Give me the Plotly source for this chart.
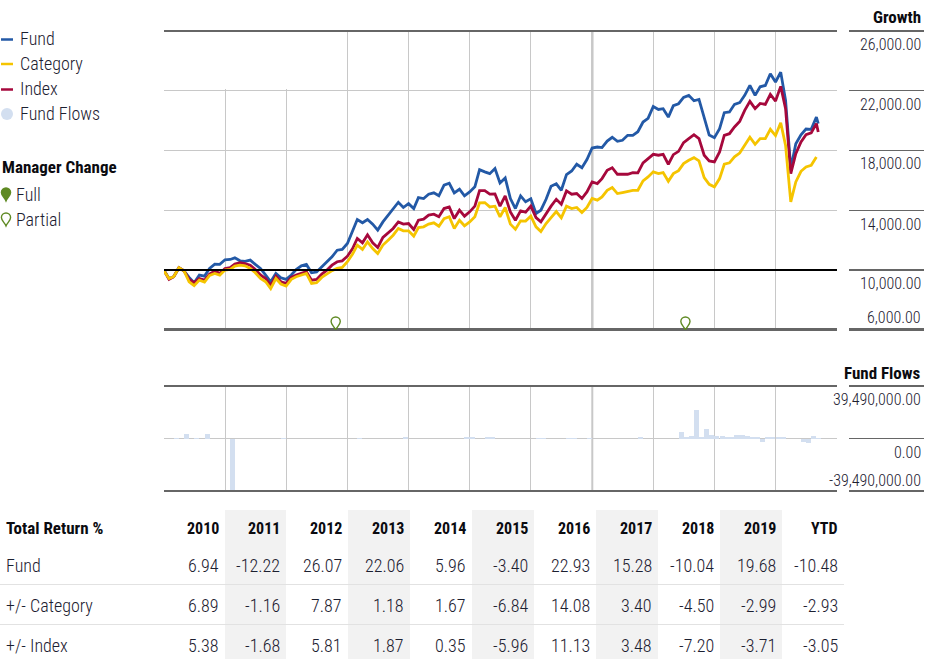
import pandas as pd
import plotly.graph_objects as go

W, H = 930, 659
FONT = "Roboto Condensed, Archivo Narrow, DejaVu Sans Condensed, sans-serif"
TXT = "#1c2030"
DARK = "#666666"
GRID = "#c8c8c8"

fund = [10000,9440,9560,10160,9960,9510,9160,9670,9600,10110,10400,10380,10690,10710,10820,10620,10580,10670,10380,10110,
        9670,9220,9780,9490,9380,9670,10040,10290,10380,9820,9870,10220,10560,10890,11330,11380,11780,12560,13380,13160,
        13380,13070,12670,13220,13670,14110,14530,14180,14440,14110,14840,14780,15070,15160,14960,15670,15800,15160,15400,14960,
        15220,15560,16710,16560,16440,16780,15820,16150,14780,14110,14960,14560,14760,13780,14000,14730,15600,15760,15330,16380,
        16620,17070,16840,17380,18150,18220,18180,18620,18870,18600,18670,19000,19000,19240,19890,20130,20930,20730,20780,20220,
        20980,21110,21530,21670,21310,21400,20180,19020,18840,19440,20510,20560,21070,21180,21670,22330,21670,22240,22330,23110,
        22560,23220,21330,16780,18440,19040,19420,19400,20220,19780]
index = [10000,9380,9560,10160,9960,9380,9160,9440,9330,9730,9930,9780,10110,10160,10400,10490,10440,10330,10040,9670,
         9440,8980,9600,9220,9110,9510,9670,9780,9890,9330,9380,9730,10000,10330,10560,10620,10930,11440,12110,11820,
         12360,11820,11510,12180,12510,12780,13220,13070,13110,12710,13330,13400,13670,13730,13560,14110,14220,13440,14000,13600,
         13890,14270,15310,15310,15070,15090,14270,14960,13890,13330,13960,13870,14270,13510,13220,13780,14270,14730,14400,15290,
         15070,15110,14780,15220,15890,15780,16110,16670,16840,16400,16400,16400,16510,16490,17160,17440,17730,17670,17730,17070,
         17710,17930,18510,18780,19040,18780,17670,17290,17220,17890,19000,19110,19560,19930,20670,21270,20780,21130,21070,21730,
         21290,22270,20780,16440,17780,18560,19040,19160,19780,19220]
category = [9960,9440,9560,10160,9960,9220,8960,9330,9200,9640,9780,9670,10000,10040,10270,10330,10290,10110,9820,9440,
            9220,8760,9440,9070,8930,9380,9560,9670,9780,9110,9160,9510,9730,9960,10110,10180,10560,11070,11670,11380,
            11890,11440,11110,11670,12000,12330,12780,12620,12620,12270,12840,12890,13070,13160,12930,13440,13560,12780,13330,12960,
            13220,13560,14490,14510,14220,14270,13560,14180,13070,12730,13290,13270,13600,12890,12580,13110,13510,13910,13490,14270,
            14110,14180,13840,14180,14780,14670,14890,15330,15510,15110,15180,15240,15330,15330,15960,16220,16560,16440,16510,15930,
            16440,16640,17110,17330,17510,17290,16180,15730,15560,16110,17070,17160,17560,17820,18330,18870,18400,18780,18780,19400,
            18980,19840,18330,14560,15890,16600,16890,17000,17560]
flows_millions = [0,0,0.1,0,3.3,0,0.1,0,3.2,0,0,0,0,-39.49,0,0,0,0,0,0,
                  0,0,0,0.3,0,0,0,0,0,0,0,0,0,0,0,0,0,0,0.2,0,
                  0,0,0,0,0,0,0,0.5,0,0,0,0,0,0,0,0,0,0,0,0.8,
                  0.5,0,0,1.5,1.2,0,0,0,0,0,0,0,0,0.3,0.3,0,0,0,0,0.2,
                  0.2,0,0,0.2,0,0,0,0,0,0,0,0,0,0.5,0,0,0,0,0,0,
                  0,5.0,0.5,1.7,21.3,1.0,7.0,2.5,1.7,1.7,0.8,1.2,3.0,2.5,1.7,1.5,0.8,-2.3,0.8,1.2,
                  0.8,0.4,0,0,0,-2.5,-3.3,1.8,0.2]

growth_ticks = [26000, 22000, 18000, 14000, 10000, 6000]
flow_ticks = [39490000, 0, -39490000]
manager_partial = ["2012-10-22", "2018-07-11"]
thick_grid_year = ["2017-01-01"]

years = ["2010", "2011", "2012", "2013", "2014", "2015", "2016", "2017", "2018", "2019", "YTD"]
row_names = ["Fund", "+/- Category", "+/- Index"]
row_fund = ["6.94", "-12.22", "26.07", "22.06", "5.96", "-3.40", "22.93", "15.28", "-10.04", "19.68", "-10.48"]
row_cat = ["6.89", "-1.16", "7.87", "1.18", "1.67", "-6.84", "14.08", "3.40", "-4.50", "-2.99", "-2.93"]
row_idx = ["5.38", "-1.68", "5.81", "1.87", "0.35", "-5.96", "11.13", "3.48", "-7.20", "-3.71", "-3.05"]

months = pd.date_range("2009-12-31", periods=129, freq="ME")
x_line = [d.strftime("%Y-%m-%d") for d in months]
x_last = x_line + ["2020-09-11"]
x_bars = [(d + pd.Timedelta(days=15)).strftime("%Y-%m-%d") for d in months]

X0, X1 = 164, 837
GX0, GX1 = 849, 924
T0, T1 = 30.5, 330
F0, F1 = 386, 491
px = lambda v: v / W
py = lambda v: 1 - v / H

fig = go.Figure()
fig.add_trace(go.Bar(x=x_bars, y=[v * 1e6 for v in flows_millions], width=30.4 * 86400000,
                     marker=dict(color="#d3dff0", line_width=0), xaxis="x2", yaxis="y2", name="Fund Flows", showlegend=False))
for name, ys, xs, col in [("Fund", fund, x_last, "#2359a6"), ("Index", index, x_last, "#a6083c"), ("Category", category, x_line, "#f5c400")]:
    fig.add_trace(go.Scatter(x=xs, y=ys, mode="lines", name=name, showlegend=False,
                             line=dict(color=col, width=2.8, shape="linear"), xaxis="x", yaxis="y"))

shapes, ann = [], []

def text(x, y, s, size=18, bold=False, anchor="left", color=TXT):
    ann.append(dict(x=px(x), y=py(y), xref="paper", yref="paper", text=s, showarrow=False, xanchor=anchor,
                    yanchor="middle", borderpad=0, borderwidth=0,
                    font=dict(family=FONT, size=size, color="#0b0b10" if bold else color, weight=700 if bold else 300)))

def hline(x0, x1, y, width, color):
    shapes.append(dict(type="line", xref="paper", yref="paper", x0=px(x0), x1=px(x1), y0=py(y), y1=py(y),
                       line=dict(color=color, width=width), layer="above"))

PIN = "M 0 0 C -1.5 3.6 -4.6 5.4 -4.6 8.4 C -4.6 11 -2.5 13 0 13 C 2.5 13 4.6 11 4.6 8.4 C 4.6 5.4 1.5 3.6 0 0 Z"
def pin(x, y, xref, yref, filled):
    shapes.append(dict(type="path", xref=xref, yref=yref, xsizemode="pixel", ysizemode="pixel", xanchor=x, yanchor=y,
                       path=PIN, fillcolor="#5f8a23" if filled else "rgba(255,255,255,0)",
                       line=dict(color="#5f8a23", width=1.4), layer="above"))

# cover the top of the first two year lines, which the page hides behind its legend
shapes.append(dict(type="rect", xref="x", yref="y", x0="2010-12-01", x1="2012-03-01", y0=22100, y1=26000,
                   fillcolor="white", line_width=0, layer="between"))
for d in thick_grid_year:
    shapes.append(dict(type="line", xref="x", yref="paper", x0=d, x1=d, y0=py(T1), y1=py(T0), line=dict(color=GRID, width=2.5), layer="between"))
    shapes.append(dict(type="line", xref="x2", yref="paper", x0=d, x1=d, y0=py(F1), y1=py(F0), line=dict(color=GRID, width=2), layer="between"))

# frame of the growth panel and its right gutter
hline(X0, X1, 31, 2, DARK)
hline(X0, X1, 329.5, 3, DARK)
hline(GX0, GX1, 31, 2, DARK)
hline(GX0, GX1, 329.5, 3, DARK)
for yy in [90.5, 150.5, 210.5]:
    hline(GX0, GX1, yy, 1, DARK)
hline(GX0, GX1, 270, 2, DARK)
shapes.append(dict(type="line", xref="paper", yref="y", x0=px(X0), x1=px(X1), y0=10000, y1=10000,
                   line=dict(color="#000000", width=2), layer="above"))

# frame of the flows panel
hline(X0, X1, F0, 2, DARK)
hline(X0, X1, F1, 2, DARK)
hline(GX0, GX1, F0, 2, DARK)
hline(GX0, GX1, 438.5, 1, DARK)
hline(GX0, GX1, F1, 2, DARK)

for d in manager_partial:
    pin(d, 6000, "x", "y", False)

# y labels
for val, yy in zip(growth_ticks, [44, 104, 164, 224, 283, 317.5]):
    text(921, yy, f"{val:,.2f}", size=16, anchor="right")
for val, yy in zip(flow_ticks, [399, 452, 480]):
    text(921, yy, f"{val:,.2f}", size=16, anchor="right")
text(921, 17, "Growth", size=17, bold=True, anchor="right")
text(921, 372.5, "Fund Flows", size=17, bold=True, anchor="right")

# legend
for name, col, yy in [("Fund", "#2359a6", 39.5), ("Category", "#f5c400", 64), ("Index", "#a6083c", 89.5)]:
    hline(1, 13, yy, 2.5, col)
    text(20, yy - 1, name)
shapes.append(dict(type="circle", xref="paper", yref="paper", x0=px(1), x1=px(13), y0=py(120), y1=py(108),
                   fillcolor="#d3dff0", line_width=0))
text(20, 113, "Fund Flows")
text(2, 166.5, "Manager Change", size=17, bold=True)
pin(px(6), py(201), "paper", "paper", True)
pin(px(6), py(226), "paper", "paper", False)
text(16, 194, "Full")
text(16, 219, "Partial")

# table
COL_RIGHT = [219, 280, 342, 404, 466, 528, 590, 652, 714, 776, 838]
BANDS = [(225, 286), (348, 410), (472, 534), (596, 658), (720, 782)]
for a, b in BANDS:
    shapes.append(dict(type="rect", xref="paper", yref="paper", x0=px(a), x1=px(b), y0=py(H), y1=py(510),
                       fillcolor="#f2f2f2", line_width=0, layer="below"))
for yy in [584.5, 624.5]:
    hline(0, 844, yy, 1, "#e2e2e2")
text(6, 528, "Total Return %", size=17, bold=True)
for y_, name, row in zip([565, 605, 645], row_names, [row_fund, row_cat, row_idx]):
    text(6, y_, name)
    for r, v in zip(COL_RIGHT, row):
        text(r, y_, v, anchor="right")
for r, v in zip(COL_RIGHT, years):
    text(r, 528, v, size=16, bold=True, anchor="right")

axis_x = dict(type="date", range=["2010-01-01", "2021-01-01"], dtick="M12", tick0="2011-01-01", showticklabels=False,
              showgrid=True, gridcolor=GRID, gridwidth=1.4, zeroline=False, showline=False, ticks="")
fig.update_layout(
    width=W, height=H, margin=dict(l=0, r=0, t=0, b=0), paper_bgcolor="white", plot_bgcolor="white",
    showlegend=False, bargap=0, font=dict(family=FONT, color=TXT),
    xaxis=dict(axis_x, domain=[px(X0), px(X1)], anchor="y"),
    yaxis=dict(domain=[py(T1), py(T0)], range=[6000, 26000], tickvals=growth_ticks, showticklabels=False,
               showgrid=True, gridcolor=GRID, gridwidth=1.4, zeroline=False, anchor="x"),
    xaxis2=dict(axis_x, domain=[px(X0), px(X1)], anchor="y2"),
    yaxis2=dict(domain=[py(F1), py(F0)], range=[-39490000, 39490000], tickvals=flow_ticks, showticklabels=False,
                showgrid=True, gridcolor=GRID, gridwidth=1.4, zeroline=False, anchor="x2"),
    shapes=shapes, annotations=ann,
)
fig.write_html("out.html", config=dict(displayModeBar=False),
               post_script="document.body.style.margin='0';document.body.style.overflow='hidden';")
